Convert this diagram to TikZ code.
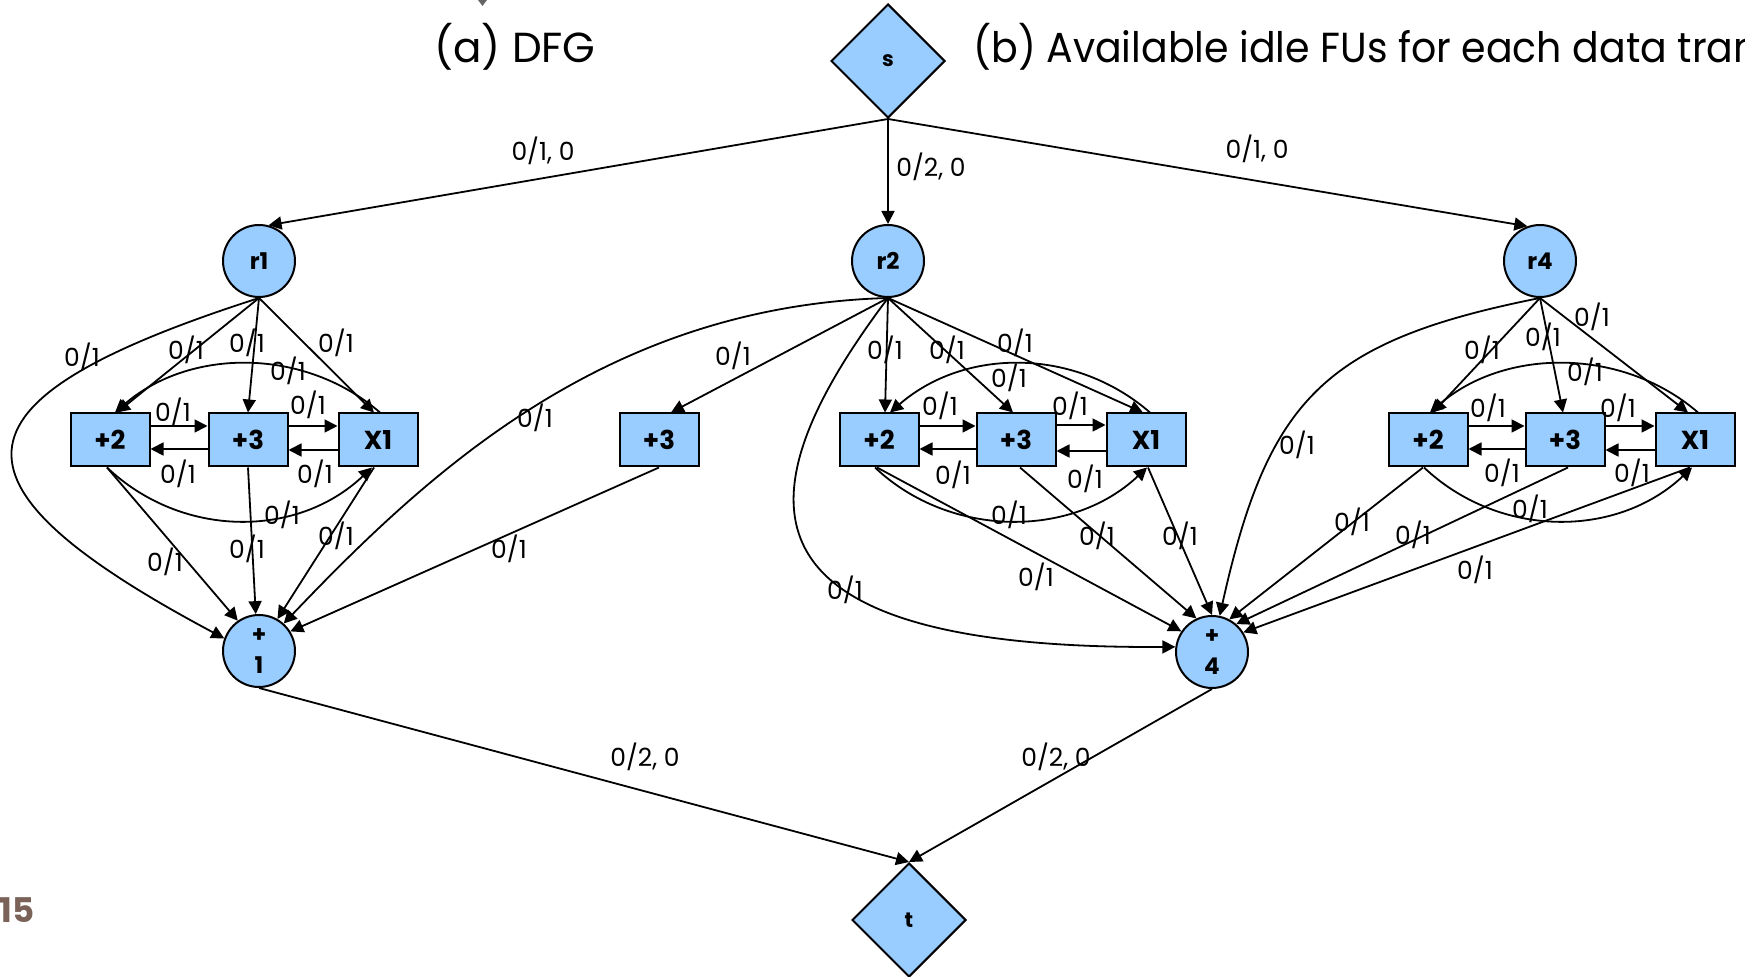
\documentclass[tikz,border=0pt]{standalone}
\usepackage{fontspec}
\setmainfont{Poppins}
\usetikzlibrary{arrows.meta,shapes.geometric,calc}
\definecolor{fublue}{HTML}{99CCFF}
\definecolor{pagenum}{RGB}{122,98,88}

\begin{document}
\begin{tikzpicture}[x=0.5pt,y=-0.5pt,
  fu/.style={draw=black, line width=1pt, fill=fublue, minimum width=39.5pt,
    minimum height=26.5pt, inner sep=0pt, font=\bfseries\fontsize{13}{15}\selectfont},
  reg/.style={circle, draw=black, line width=1pt, fill=fublue, minimum size=36pt,
    inner sep=0pt, font=\bfseries\fontsize{11.5}{15.5}\selectfont},
  term/.style={diamond, draw=black, line width=1pt, fill=fublue, minimum width=57pt,
    minimum height=57pt, inner sep=0pt, font=\bfseries\fontsize{10.5}{12}\selectfont},
  flow/.style={draw=black, line width=0.9pt, -{Triangle[length=6.5pt,width=6.5pt]}},
  lbl/.style={inner sep=0pt, font=\fontsize{12.5}{14}\selectfont},
  title/.style={inner sep=0pt, font=\fontsize{21}{24}\selectfont}]

\useasboundingbox (0,0) rectangle (1745,977);
\clip (0,0) rectangle (1745,977);

% headings and page number
\node[title, anchor=base] (ta) at (515,63) {(a) DFG};
\node[title, anchor=base west] (tb) at (973,63)
  {\scalebox{0.94}[1]{(b) Available idle FUs for each data tran}};
\node[inner sep=0pt, anchor=base west, text=pagenum,
  font=\bfseries\fontsize{17}{20}\selectfont] (pg) at (-1,922) {15};
\fill[black!60] (478,0) -- (487,0) -- (482.5,6) -- cycle;

% source, sink, registers and operations
\node[term] (s) at (888,61) {s};
\node[term] (t) at (909,920) {t};
\node[reg] (r1) at (259,261) {r1};
\node[reg] (r2) at (888,261) {r2};
\node[reg] (r4) at (1540,261) {r4};
\node[reg, align=center] (p1) at (259,651) {+\\1};
\node[reg, align=center] (p4) at (1212,652) {+\\4};

% idle functional units
\node[fu] (a2) at (110,440) {+2};
\node[fu] (a3) at (248,440) {+3};
\node[fu] (ax) at (378,440) {X1};
\node[fu] (q3) at (659,440) {+3};
\node[fu] (b2) at (879,440) {+2};
\node[fu] (b3) at (1016,440) {+3};
\node[fu] (bx) at (1146,440) {X1};
\node[fu] (c2) at (1428,440) {+2};
\node[fu] (c3) at (1565,440) {+3};
\node[fu] (cx) at (1695,440) {X1};

% source to registers
\draw[flow] (s.south) -- (r1.75) node[lbl] at (543,151) {0/1, 0};
\draw[flow] (s.south) -- (r2.north) node[lbl] at (931,167) {0/2, 0};
\draw[flow] (s.south) -- (r4.110) node[lbl] at (1257,149) {0/1, 0};

% r1 group
\draw[flow] (r1.south) .. controls (-52,398) and (-73,480) .. (p1.160) node[lbl] at (82,357) {0/1};
\draw[flow] (r1.south) -- ($(a2.north)+(7,0)$) node[lbl] at (186,350) {0/1};
\draw[flow] (r1.south) -- (a3.north) node[lbl] at (247,343) {0/1};
\draw[flow] (r1.south) -- ($(ax.north)+(-4,0)$) node[lbl] at (336,343) {0/1};
\draw[flow] ($(ax.north)+(2,0)$) .. controls +(-75,-65) and +(75,-65) .. ($(a2.north)+(5,0)$) node[lbl] at (288,371) {0/1};
\draw[flow] ($(a2.east)+(0,-14)$) -- ($(a3.west)+(0,-14)$) node[lbl] at (173,412) {0/1};
\draw[flow] ($(a3.west)+(0,9)$) -- ($(a2.east)+(0,9)$) node[lbl] at (178,474) {0/1};
\draw[flow] ($(a3.east)+(0,-14)$) -- ($(ax.west)+(0,-14)$) node[lbl] at (308,405) {0/1};
\draw[flow] ($(ax.west)+(0,10)$) -- ($(a3.east)+(0,10)$) node[lbl] at (315,474) {0/1};
\draw[flow] ($(a2.south)+(-3,0)$) .. controls +(75,71) and +(-75,71) .. ($(ax.south)+(-6,0)$) node[lbl] at (282,515) {0/1};
\draw[flow] ($(a2.south)+(-3,0)$) -- (p1.125) node[lbl] at (165,562) {0/1};
\draw[flow] (a3.south) -- (p1.95) node[lbl] at (247,549) {0/1};
\draw[flow] ($(ax.south)+(-4,0)$) -- (p1.60) node[lbl] at (336,536) {0/1};

% r2 towards +1
\draw[flow] (r2.south) .. controls (608,306) and (431,469) .. (p1.48) node[lbl] at (535,418) {0/1};
\draw[flow] (r2.south) -- ($(q3.north)+(12,0)$) node[lbl] at (733,356) {0/1};
\draw[flow] (q3.south) -- (p1.32) node[lbl] at (509,549) {0/1};

% r2 group
\draw[flow] (r2.south) -- ($(b2.north)+(6,0)$) node[lbl] at (885,350) {0/1};
\draw[flow] (r2.south) -- ($(b3.north)+(-3,0)$) node[lbl] at (947,350) {0/1};
\draw[flow] (r2.south) -- ($(bx.north)+(-3,0)$) node[lbl] at (1015,343) {0/1};
\draw[flow] ($(bx.north)+(4,0)$) .. controls +(-75,-65) and +(75,-65) .. ($(b2.north)+(11,0)$) node[lbl] at (1009,378) {0/1};
\draw[flow] ($(b2.east)+(0,-14)$) -- ($(b3.west)+(0,-14)$) node[lbl] at (940,406) {0/1};
\draw[flow] ($(b3.west)+(0,9)$) -- ($(b2.east)+(0,9)$) node[lbl] at (953,475) {0/1};
\draw[flow] ($(b3.east)+(0,-15)$) -- ($(bx.west)+(0,-15)$) node[lbl] at (1070,406) {0/1};
\draw[flow] ($(bx.west)+(0,11)$) -- ($(b3.east)+(0,11)$) node[lbl] at (1085,479) {0/1};
\draw[flow] ($(b2.south)+(-4,0)$) .. controls +(75,71) and +(-75,71) .. ($(bx.south)+(1,0)$) node[lbl] at (1009,515) {0/1};
\draw[flow] ($(b2.south)+(-2,0)$) -- (p4.146) node[lbl] at (1036,577) {0/1};
\draw[flow] ($(b3.south)+(4,0)$) -- (p4.115) node[lbl] at (1097,536) {0/1};
\draw[flow] ($(bx.south)+(2,0)$) -- (p4.90) node[lbl] at (1180,536) {0/1};
\draw[flow] (r2.south) .. controls (738,497) and (725,650) .. (p4.172) node[lbl] at (845,590) {0/1};

% r4 group
\draw[flow] (r4.south) -- ($(c2.north)+(5,0)$) node[lbl] at (1482,350) {0/1};
\draw[flow] (r4.south) -- ($(c3.north)+(-2,0)$) node[lbl] at (1543,337) {0/1};
\draw[flow] (r4.south) -- ($(cx.north)+(-7,0)$) node[lbl] at (1592,317) {0/1};
\draw[flow] ($(cx.north)+(3,0)$) .. controls +(-75,-65) and +(75,-65) .. ($(c2.north)+(2,0)$) node[lbl] at (1585,372) {0/1};
\draw[flow] ($(c2.east)+(0,-14)$) -- ($(c3.west)+(0,-14)$) node[lbl] at (1488,408) {0/1};
\draw[flow] ($(c3.west)+(0,9)$) -- ($(c2.east)+(0,9)$) node[lbl] at (1502,473) {0/1};
\draw[flow] ($(c3.east)+(0,-14)$) -- ($(cx.west)+(0,-14)$) node[lbl] at (1618,408) {0/1};
\draw[flow] ($(cx.west)+(0,10)$) -- ($(c3.east)+(0,10)$) node[lbl] at (1632,473) {0/1};
\draw[flow] ($(c2.south)+(-4,0)$) .. controls +(75,71) and +(-75,71) .. ($(cx.south)+(-3,0)$) node[lbl] at (1530,509) {0/1};
\draw[flow] (r4.south) .. controls (1324,341) and (1268,399) .. (p4.78) node[lbl] at (1297,445) {0/1};
\draw[flow] ($(c2.south)+(-5,0)$) -- (p4.62) node[lbl] at (1352,522) {0/1};
\draw[flow] ($(c3.south)+(3,0)$) -- (p4.49) node[lbl] at (1413,535) {0/1};
\draw[flow] ($(cx.south)+(-5,0)$) -- (p4.32) node[lbl] at (1475,570) {0/1};

% operations to sink
\draw[flow] (p1.south) -- (t.north) node[lbl] at (645,757) {0/2, 0};
\draw[flow] (p4.south) -- (t.north) node[lbl] at (1056,757) {0/2, 0};
\end{tikzpicture}
\end{document}
